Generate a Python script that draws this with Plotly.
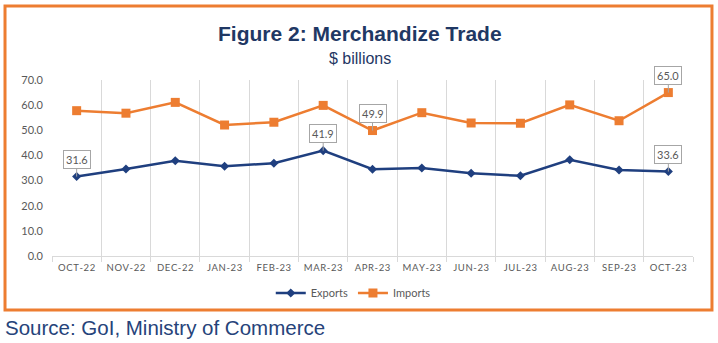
import plotly.graph_objects as go

months = ["OCT-22", "NOV-22", "DEC-22", "JAN-23", "FEB-23", "MAR-23", "APR-23",
          "MAY-23", "JUN-23", "JUL-23", "AUG-23", "SEP-23", "OCT-23"]
exports = [31.6, 34.6, 37.9, 35.7, 36.9, 41.9, 34.5, 35.0, 32.9, 31.9, 38.3, 34.2, 33.6]
imports = [57.8, 56.8, 61.1, 52.1, 53.2, 59.9, 49.9, 57.0, 52.9, 52.8, 60.1, 53.8, 65.0]

# month indices that carry a value callout, per series
export_labels = [0, 5, 12]
import_labels = [6, 12]

NAVY = "#1F3864"
BLUE = "#1F3F7F"
ORANGE = "#ED7D31"
GREY = "#595959"

def spaced(s):
    return "\u200a".join(s)

fig = go.Figure()
fig.add_trace(go.Scatter(
    x=months, y=exports, name="Exports", mode="lines+markers",
    line=dict(color=BLUE, width=2.5),
    marker=dict(symbol="diamond", size=7, color=BLUE),
))
fig.add_trace(go.Scatter(
    x=months, y=imports, name="Imports", mode="lines+markers",
    line=dict(color=ORANGE, width=2.5),
    marker=dict(symbol="square", size=9, color=ORANGE),
))

annotations = []
for series, idxs in ((exports, export_labels), (imports, import_labels)):
    for i in idxs:
        annotations.append(dict(
            x=months[i], y=series[i], xref="x", yref="y",
            text=f"{series[i]:.1f}", showarrow=True,
            ax=0, ay=-17, arrowhead=0, arrowwidth=1, arrowcolor="#A6A6A6",
            bordercolor="#A6A6A6", borderwidth=1, borderpad=2, bgcolor="white",
            font=dict(family="Lato, sans-serif", size=11, color=GREY),
        ))

annotations += [
    dict(text="<b>Figure 2: Merchandize Trade</b>", xref="paper", yref="paper",
         x=0.4805, y=1.267, xanchor="center", yanchor="middle", showarrow=False,
         font=dict(family="Liberation Sans, Arial, sans-serif", size=21, color=NAVY)),
    dict(text="$ billions", xref="paper", yref="paper",
         x=0.4805, y=1.125, xanchor="center", yanchor="middle", showarrow=False,
         font=dict(family="Liberation Sans, Arial, sans-serif", size=16, color=NAVY)),
    dict(text="Source: GoI, Ministry of Commerce", xref="paper", yref="paper",
         x=-0.0764, y=-0.409, xanchor="left", yanchor="middle", showarrow=False,
         font=dict(family="Liberation Sans, Arial, sans-serif", size=20.5, color="#26437A")),
]

fig.update_layout(
    width=718, height=343,
    margin=dict(l=52, r=25, t=80, b=87),
    paper_bgcolor="white", plot_bgcolor="white",
    showlegend=True,
    legend=dict(orientation="h", x=0.47, y=-0.21, xanchor="center", yanchor="middle",
                font=dict(family="Lato, sans-serif", size=11, color=GREY),
                itemwidth=30, tracegroupgap=0),
    annotations=annotations,
    shapes=[dict(type="rect", xref="paper", yref="paper",
                 x0=-0.0733, x1=1.0296, y0=-0.3068, y1=1.4205,
                 line=dict(color=ORANGE, width=3), fillcolor="rgba(0,0,0,0)")],
)

fig.update_xaxes(
    type="category", tickson="boundaries",
    tickvals=months, ticktext=[spaced(m) for m in months],
    tickangle=0, ticklabelstandoff=3,
    showgrid=True, gridcolor="#D9D9D9", gridwidth=1,
    showline=True, linecolor="#D9D9D9", linewidth=1,
    ticks="outside", ticklen=5, tickcolor="#D9D9D9",
    tickfont=dict(family="Lato, sans-serif", size=9.5, color=GREY),
    range=[-0.5, 12.5],
)
fig.update_yaxes(
    range=[0, 70], dtick=10, tickformat=".1f",
    showgrid=False, zeroline=False, showline=False,
    ticklabelstandoff=8,
    tickfont=dict(family="Lato, sans-serif", size=11, color=GREY),
)

fig.write_html("out.html")
